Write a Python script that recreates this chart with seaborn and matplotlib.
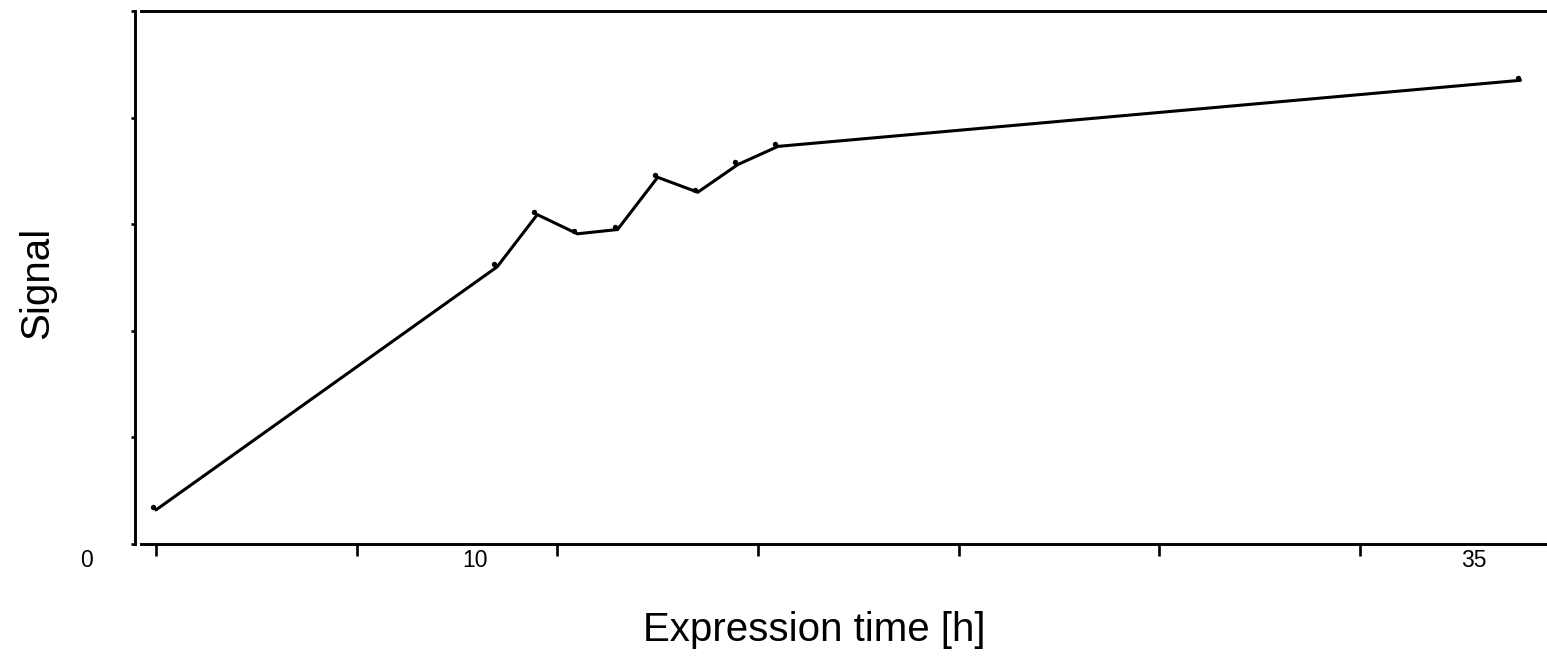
import numpy as np
import pandas as pd
import matplotlib
matplotlib.use("Agg")
import matplotlib.pyplot as plt
import matplotlib.transforms as mtransforms
import seaborn as sns

# datos
horas = [0, 8.5, 9.5, 10.5, 11.5, 12.5, 13.5, 14.5, 15.5, 34]
senal = [0.32, 2.60, 3.09, 2.91, 2.95, 3.44, 3.30, 3.56, 3.73, 4.35]

ticks_x = [0, 5, 10, 15, 20, 25, 30]
ticks_y = [0, 1, 2, 3, 4, 5]
# etiquetas del eje x (desplazadas respecto a las marcas, como en el original)
pos_etiquetas_x = [-1.72, 7.95, 32.84]
etiquetas_x = ["0", "10", "35"]

df = pd.DataFrame({"horas": horas, "senal": senal})

sns.set_theme(style="white")
plt.rcParams["font.family"] = ["Liberation Sans", "DejaVu Sans"]

fig = plt.figure(figsize=(15.47, 6.57), dpi=100)
ax = fig.add_axes([141 / 1547, 113 / 657, 1406 / 1547, 533 / 657])

sns.lineplot(data=df, x="horas", y="senal", color="black", linewidth=2.2, ax=ax)

# los puntos aparecen un poco desplazados de los vertices de la linea
desplazado = mtransforms.offset_copy(ax.transData, fig=fig, x=-3, y=2.5, units="dots")
sns.scatterplot(
    data=df, x="horas", y="senal", color="black", s=15, linewidth=0,
    ax=ax, transform=desplazado,
)

ax.set_xticks(ticks_x)
ax.set_xticklabels([])
ax.set_yticks(ticks_y)
ax.set_yticklabels([])
ax.set_xlim(-0.374, 34.66)
ax.set_ylim(0, 5)

# etiquetas sueltas bajo el eje x
trans_x = mtransforms.blended_transform_factory(ax.transData, ax.transAxes)
for pos, txt in zip(pos_etiquetas_x, etiquetas_x):
    ax.text(pos, -0.009, txt, transform=trans_x, ha="center", va="top",
            fontsize=16.5, color="black", clip_on=False)

ax.tick_params(axis="x", which="major", direction="out", length=8.6, width=1.9,
               color="black", bottom=True)
ax.tick_params(axis="y", which="major", direction="out", length=3, width=1.9,
               color="black", left=True)

for lado in ["left", "top", "bottom"]:
    ax.spines[lado].set_visible(True)
    ax.spines[lado].set_color("black")
    ax.spines[lado].set_linewidth(2.1)
ax.spines["right"].set_visible(False)
ax.spines["left"].set_position(("outward", 4.3))

ax.set_xlabel("Expression time [h]", fontsize=29, color="black")
ax.set_ylabel("Signal", fontsize=29, color="black")
ax.xaxis.set_label_coords(0.479, -0.125)
ax.yaxis.set_label_coords(-0.0605, 0.49)

fig.savefig("out.png", dpi=100)
